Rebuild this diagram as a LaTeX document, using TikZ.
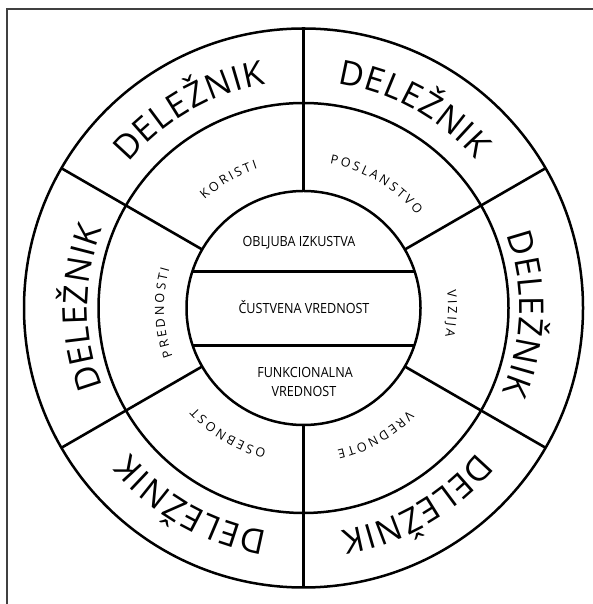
\documentclass[tikz,border=0pt]{standalone}
\usepackage{fontspec}
\setmainfont{Open Sans}
\newfontfamily\condfont[FakeStretch=0.9]{Open Sans}
\usetikzlibrary{calc}
\font\bigtxt="Open Sans" at 34pt
\font\smalltxt="Open Sans" at 12.6pt
\newlength\arcw
% #1 centre angle, #2 baseline radius, #3 font, #4 tracking, #5 letters
\newcommand\arcword[5]{%
  \gdef\arctot{0}%
  \foreach \arcch in {#5}{%
    \setbox0=\hbox{#3\arcch}\arcw=\wd0
    \pgfmathsetmacro\arctmp{\arctot+\arcw+#4}%
    \xdef\arctot{\arctmp}%
  }%
  \pgfmathsetmacro\arccur{#1+\arctot/#2*90/pi}%
  \xdef\arcpos{\arccur}%
  \foreach \arcch in {#5}{%
    \setbox0=\hbox{#3\arcch}\arcw=\wd0
    \pgfmathsetmacro\arcwd{\arcw+#4}%
    \pgfmathsetmacro\arcmid{\arcpos-\arcwd/#2*90/pi}%
    \node[letter, rotate=\arcmid-90, font=#3] at ($(C)+(\arcmid:#2)$) {\arcch};
    \pgfmathsetmacro\arcnxt{\arcpos-\arcwd/#2*180/pi}%
    \xdef\arcpos{\arcnxt}%
  }%
}
\begin{document}
\begin{tikzpicture}[x=1pt,y=1pt,
  ring/.style={line width=2.5pt},
  spoke/.style={line width=2.6pt},
  frameline/.style={black!75, line width=1.4pt},
  letter/.style={inner sep=0pt, anchor=base},
  centertext/.style={font=\condfont\fontsize{14}{19}\selectfont, inner sep=0pt, anchor=base},
]
\useasboundingbox (0,0) rectangle (593,604);
\coordinate (C) at (303.5,296);
\coordinate (fb) at (7,0);
\coordinate (fc) at (7,595);
\coordinate (fr) at (593,595);
\draw[frameline] (fb) -- (fc) -- (fr);
% circles
\draw[ring] (C) circle[radius=279.5];
\draw[ring] (C) circle[radius=205];
\draw[ring] (C) circle[radius=117];
% spokes
\foreach \a in {30,90,...,330}
  \draw[spoke] ($(C)+(\a:117)$) -- ($(C)+(\a:279.5)$);
% chords
\coordinate (c1l) at ($(C)+(-111.2,36.5)$);
\coordinate (c1r) at ($(C)+(111.2,36.5)$);
\coordinate (c2l) at ($(C)+(-110.9,-37.5)$);
\coordinate (c2r) at ($(C)+(110.9,-37.5)$);
\draw[ring] (c1l) -- (c1r);
\draw[ring] (c2l) -- (c2r);
% centre texts
\node[centertext] (t1) at (299,357) {OBLJUBA IZKUSTVA};
\node[centertext] (t2) at (304,290) {ČUSTVENA VREDNOST};
\node[centertext] (t3) at (305,226) {FUNKCIONALNA};
\node[centertext] (t4) at (304,207) {VREDNOST};
% outer ring
\arcword{120}{227}{\bigtxt}{0.8}{D,E,L,E,Ž,N,I,K}
\arcword{61}{227}{\bigtxt}{0.8}{D,E,L,E,Ž,N,I,K}
\arcword{358.5}{216}{\bigtxt}{0.8}{D,E,L,E,Ž,N,I,K}
\arcword{300}{226}{\bigtxt}{0.8}{D,E,L,E,Ž,N,I,K}
\arcword{240.4}{226}{\bigtxt}{0.8}{D,E,L,E,Ž,N,I,K}
\arcword{180}{216}{\bigtxt}{0.8}{D,E,L,E,Ž,N,I,K}
% middle ring
\arcword{120.3}{146.5}{\smalltxt}{2.6}{K,O,R,I,S,T,I}
\arcword{59.5}{146.5}{\smalltxt}{2.6}{P,O,S,L,A,N,S,T,V,O}
\arcword{357.7}{144.5}{\smalltxt}{2.6}{V,I,Z,I,J,A}
\arcword{299.5}{146.5}{\smalltxt}{2.6}{V,R,E,D,N,O,T,E}
\arcword{239}{146.5}{\smalltxt}{2.6}{O,S,E,B,N,O,S,T}
\arcword{182}{139.5}{\smalltxt}{2.6}{P,R,E,D,N,O,S,T,I}
\end{tikzpicture}
\end{document}
